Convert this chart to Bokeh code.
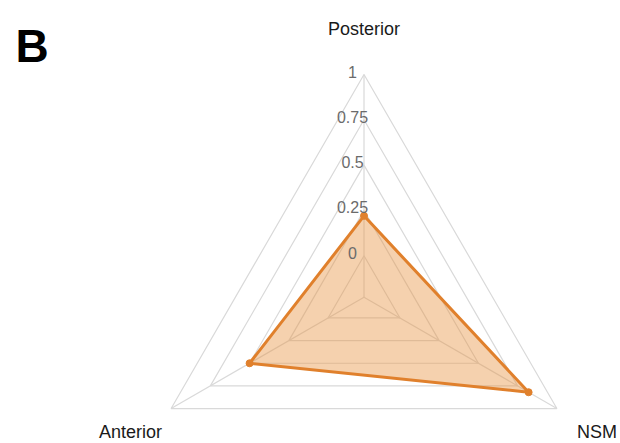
import numpy as np
from bokeh.plotting import figure
from bokeh.models import Range1d, ColumnDataSource
from bokeh.core.properties import value
from bokeh.embed import file_html
from bokeh.resources import INLINE

# ---- data ----
axis_names = ["Posterior", "NSM", "Anterior"]
series_values = [0.22, 0.82, 0.50]
levels = [0, 0.25, 0.5, 0.75, 1]
level_labels = ["0", "0.25", "0.5", "0.75", "1"]

# ---- geometry (screen-pixel units, center of radar at origin) ----
W, H = 620, 443
CX, CY = 363.5, 296.7          # center position inside canvas (from left / from top)
R0, R1 = 41.5, 181.2           # radius of level 0, radius span for 0..1
angles = np.deg2rad([90, -30, 210])

def rad(v):
    return R0 + R1 * np.asarray(v, dtype=float)

p = figure(width=W, height=H, output_backend="svg", toolbar_location=None,
           x_range=Range1d(-CX, W - CX), y_range=Range1d(CY - H, CY),
           min_border=0)
p.axis.visible = False
p.grid.visible = False
p.outline_line_color = None
p.background_fill_color = "white"
p.border_fill_color = "white"

grid_col = "#d9d9d9"
# rings
xs_r, ys_r = [], []
for lv in levels:
    r = rad(lv)
    xs_r.append(list(r * np.cos(angles)) + [r * np.cos(angles[0])])
    ys_r.append(list(r * np.sin(angles)) + [r * np.sin(angles[0])])
p.multi_line(xs_r, ys_r, line_color=grid_col, line_width=1.2)
# spokes
rmax = rad(1)
p.multi_line([[0, rmax * np.cos(a)] for a in angles],
             [[0, rmax * np.sin(a)] for a in angles],
             line_color=grid_col, line_width=1.2)

# series
rv = rad(series_values)
sx = list(rv * np.cos(angles))
sy = list(rv * np.sin(angles))
orange = "#E0802C"
p.patch(sx, sy, fill_color="#E8913F", fill_alpha=0.42, line_color=None)
p.line(sx + [sx[0]], sy + [sy[0]], line_color=orange, line_width=3, line_join="round")
p.scatter(sx, sy, size=7, fill_color=orange, line_color=orange)

# level labels (on Posterior spoke)
src_l = ColumnDataSource(dict(x=[-11.5] * len(levels), y=list(rad(levels) + 3), t=level_labels))
p.text("x", "y", text="t", source=src_l, text_font=value("Liberation Sans"),
       text_font_size="16px", text_color="#6b6b6b", text_align="center",
       text_baseline="middle")

# axis names
lab_x = [0, 233, -233.5]
lab_y = [CY - 28, CY - 431, CY - 431]
src_n = ColumnDataSource(dict(x=lab_x, y=lab_y, t=axis_names))
p.text("x", "y", text="t", source=src_n, text_font=value("Liberation Sans"),
       text_font_size="18px", text_color="#1a1a1a", text_align="center",
       text_baseline="middle")

# panel letter
p.text([-CX + 15], [CY - 45], text=["B"], text_font=value("Liberation Sans"),
       text_font_size="46px", text_font_style="bold", text_color="black",
       text_align="left", text_baseline="alphabetic")

open("out.html", "w").write(file_html(p, INLINE))
